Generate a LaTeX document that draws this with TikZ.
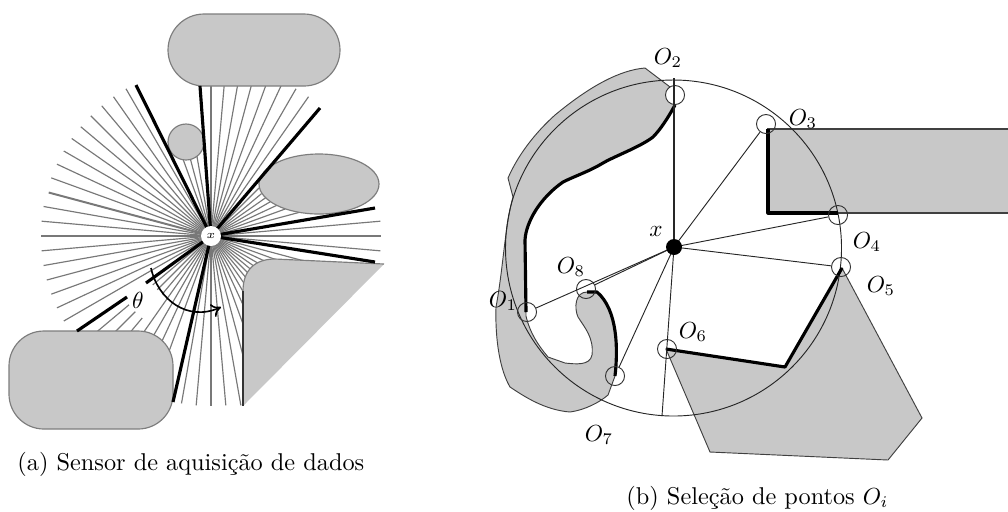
\documentclass[tikz,border=0pt]{standalone}
\usepackage{fontspec}
\usepackage{xcolor}
\usepackage{amsmath}
\usetikzlibrary{arrows.meta}
\definecolor{obsgray}{RGB}{200,200,200}
\definecolor{edgegray}{RGB}{125,125,125}
\definecolor{raygray}{RGB}{120,120,120}
\tikzset{
  ray/.style={draw=raygray, line width=0.5pt},
  midray/.style={draw=raygray, line width=0.85pt},
  boldray/.style={draw=black, line width=1.35pt},
  obstacle/.style={draw=edgegray, fill=obsgray, line width=0.5pt},
  region/.style={draw=black!75, fill=obsgray, line width=0.4pt},
  contour/.style={draw=black, line width=1.35pt, line join=round},
  spoke/.style={draw=black!85, line width=0.4pt},
  hit/.style={draw=black!80, line width=0.4pt, circle, minimum size=8.2pt, inner sep=0pt},
  lbl/.style={inner sep=0pt},
  caption/.style={inner sep=0pt, anchor=base west, font=\fontsize{10.45}{12.5}\selectfont}
}
\begin{document}
\begin{tikzpicture}[x=0.43pt, y=-0.43pt]
  \useasboundingbox (0,0) rectangle (1008,511);

  % (a) sensor
  \coordinate (sensor) at (211,236);
  \foreach \a in {0,-5,-55,-60,-65,-70,-75,-80,-85,-90,-120,-125,-130,-135,-140,-145,-150,-155,-160,-170,-175,180,175,170,165,160,155,150,125,120,115,110,100,95,90,85,5}
    \draw[ray] (sensor) -- ++(\a:170);
  \foreach \a/\r in {-15/91,-20/79,-25/73,-30/69,-35/67,-40/66,-45/68,-100/81,-105/79,-110/81,80/172,75/124,70/94,65/76,60/64,55/58,50/54,45/53,40/52,35/53,30/55,25/59,20/68,15/96}
    \draw[ray] (sensor) -- ++(\a:\r);
  \foreach \a in {140,135,130} {
    \draw[ray] (sensor) -- ++(\a:76);
    \draw[ray] (sensor) ++(\a:107) -- ++(\a:63);
  }
  \draw[midray] (sensor) -- ++(-165:168);

  \draw[obstacle, rounded corners=15.5pt] (168,14) rectangle (340,86);
  \draw[obstacle] (186,142) circle (18);
  \draw[obstacle] (319,184) ellipse (60 and 30);
  \draw[obstacle, rounded corners=15pt] (9,331) rectangle (173,429);
  \fill[obsgray] (243,406) -- (243,291) .. controls (243,270) and (255,259) .. (275,259) -- (384,264) -- cycle;
  \draw[edgegray, line width=0.5pt] (384,264) -- (275,259) .. controls (255,259) and (243,270) .. (243,291);
  \draw[black!80, line width=0.5pt] (243,291) -- (243,406);

  \foreach \e in {(136,85),(200,86),(320,108),(375,208),(375,262),(173,402),(146,283)}
    \draw[boldray] (sensor) -- \e;
  \draw[boldray] (127,297) -- (77,331);
  \node[circle, fill=white, minimum size=8.6pt, inner sep=0pt, font=\tiny] (sensorx) at (sensor) {$x$};

  \node[lbl] (theta) at (138,300) {$\theta$};
  \draw[-{To[length=4pt,width=6pt]}, line width=0.7pt] (151,268) .. controls (158,300) and (188,322) .. (221,307);

  \node[caption] (capa) at (17,470) {(a) Sensor de aquisição de dados};

  % (b) selection
  \coordinate (centre) at (674,247);
  \path[region] (674,90) -- (645,68) .. controls (620,70) and (590,86) .. (555,115)
    .. controls (535,133) and (518,155) .. (508,178) -- (513,197)
    .. controls (505,225) and (503,270) .. (496,307)
    .. controls (495,340) and (500,370) .. (510,387)
    .. controls (525,397) and (545,410) .. (570,412)
    .. controls (585,410) and (600,402) .. (608,395) -- (615,376)
    .. controls (618,350) and (618,310) .. (597,292) -- (587,292)
    .. controls (575,292) and (574,308) .. (578,317)
    .. controls (585,328) and (594,338) .. (592,355)
    .. controls (590,366) and (575,364) .. (565,363) -- (548,357)
    .. controls (538,345) and (530,333) .. (526,316) -- (525,240)
    .. controls (526,222) and (540,198) .. (563,182)
    .. controls (575,176) and (590,171) .. (603,163)
    .. controls (615,156) and (640,147) .. (653,137)
    .. controls (660,130) and (668,118) .. (675,105) -- cycle;
  \draw[region] (842,268) -- (922,418) -- (888,460) -- (710,452) -- (666,349) -- (785,367) -- cycle;
  \draw[region, line width=0.8pt] (1008,129) -- (768,129) -- (768,213) -- (1008,213);

  \draw[black!85, line width=0.4pt] (673.5,248) circle (168);

  \draw[contour] (526,312) -- (525,240) .. controls (526,222) and (540,198) .. (563,182)
    .. controls (575,176) and (590,171) .. (603,163)
    .. controls (615,156) and (640,147) .. (653,137)
    .. controls (660,130) and (668,118) .. (675,105);
  \draw[contour] (587,292) -- (597,292) .. controls (618,310) and (618,350) .. (615,376);
  \draw[contour] (768,129) -- (768,213) -- (838,213);
  \draw[contour] (666,349) -- (785,367) -- (842,268);

  \node[hit, fill=white] (o2) at (675,95) {};
  \node[hit] (o1) at (527,312) {};
  \node[hit] (o3) at (766,124) {};
  \node[hit] (o4) at (838,215) {};
  \node[hit] (o5) at (841,267) {};
  \node[hit] (o6) at (667,349) {};
  \node[hit] (o7) at (615,376) {};
  \node[hit] (o8) at (586,289) {};
  \coordinate (rim) at (662,416);

  \draw[spoke, line width=0.7pt] (centre) -- (674,78);
  \foreach \o in {o3,o4,o5,o7,o8,o1}
    \draw[spoke] (centre) -- (\o);
  \draw[spoke] (centre) -- (rim);
  \fill[black] (centre) circle (8);

  \node[lbl] (l1) at (503,301) {$O_1$};
  \node[lbl] (l2) at (668,58) {$O_2$};
  \node[lbl] (l3) at (803,119) {$O_3$};
  \node[lbl] (l4) at (867,242) {$O_4$};
  \node[lbl] (l5) at (881,286) {$O_5$};
  \node[lbl] (l6) at (693,332) {$O_6$};
  \node[lbl] (l7) at (599,435) {$O_7$};
  \node[lbl] (l8) at (571,267) {$O_8$};
  \node[lbl] (lx) at (656,231) {$x$};

  \node[caption] (capb) at (626,504) {(b) Seleção de pontos $O_i$};
\end{tikzpicture}
\end{document}
